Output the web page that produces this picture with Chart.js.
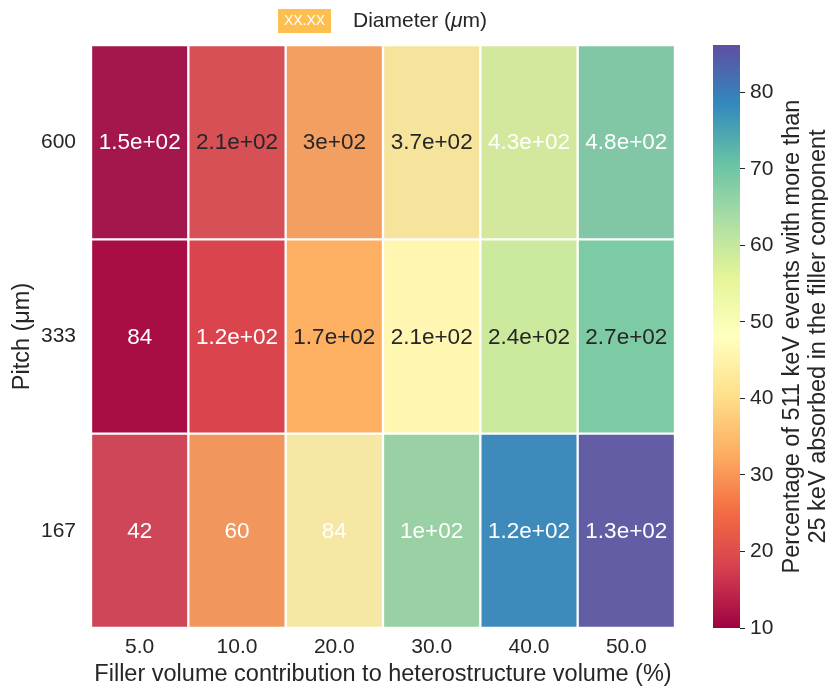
<!DOCTYPE html>
<html>
<head>
<meta charset="utf-8">
<title>Filler heatmap</title>
<style>
  body { margin: 0; background: #fff; }
  #wrap { position: relative; width: 828px; height: 689px; }
  #wrap canvas { position: absolute; left: 0; top: 0; }
</style>
</head>
<body>
<div id="wrap">
  <canvas id="heat" width="828" height="689"></canvas>
  <canvas id="cbar" width="828" height="689"></canvas>
</div>
<script src="https://cdn.jsdelivr.net/npm/chart.js"></script>
<script>
const fillerLabels = ['5.0', '10.0', '20.0', '30.0', '40.0', '50.0'];
const pitchLabels = ['600', '333', '167'];

// colour: % of 511 keV events with > 25 keV absorbed in filler
const pct600 = [10.8, 19.0, 31.0, 43.0, 57.5, 68.5];
const pct333 = [11.5, 18.8, 33.0, 46.0, 59.2, 68.4];
const pct167 = [17.2, 30.0, 44.0, 65.5, 78.6, 85.5];

// annotations: diameter (um)
const diam600 = [150, 210, 300, 370, 430, 480];
const diam333 = [84, 120, 170, 210, 240, 270];
const diam167 = [42, 60, 84, 100, 120, 130];

// which annotations are white
const light600 = [true, false, false, false, true, true];
const light333 = [true, true, false, false, false, false];
const light167 = [true, true, true, true, true, true];

const cbTicks = [10, 20, 30, 40, 50, 60, 70, 80];
const vmin = 10, vmax = 86.2;

const FONT = '"Liberation Sans", Arial, sans-serif';
const DARK = '#262626';
Chart.defaults.font.family = FONT;
Chart.defaults.color = DARK;

// matplotlib Spectral
const spectral = ['#9e0142','#d53e4f','#f46d43','#fdae61','#fee08b','#ffffbf',
                  '#e6f598','#abdda4','#66c2a5','#3288bd','#5e4fa2'];
function hex(c) { return [1, 3, 5].map(i => parseInt(c.substr(i, 2), 16)); }
function cmap(v, mute) {
    let t = (v - vmin) / (vmax - vmin);
    t = Math.max(0, Math.min(1, t)) * 10;
    const i = Math.min(9, Math.floor(t)), f = t - i;
    const a = hex(spectral[i]), b = hex(spectral[i + 1]);
    let c = a.map((x, k) => x + (b[k] - x) * f);
    if (mute) c = c.map(x => x * 0.9 + 168 * 0.1);   // top & bottom rows look washed out
    return 'rgb(' + c.map(Math.round).join(',') + ')';
}

// like python '%.2g'
function fmtG(v) {
    const e = Math.floor(Math.log10(Math.abs(v)));
    if (e >= 2) {
        const m = (v / Math.pow(10, e)).toFixed(1).replace(/\.0$/, '');
        return m + 'e+' + String(e).padStart(2, '0');
    }
    return String(Number(v.toPrecision(2)));
}

const rows = [
    { pct: pct600, diam: diam600, light: light600, mute: true },
    { pct: pct333, diam: diam333, light: light333, mute: false },
    { pct: pct167, diam: diam167, light: light167, mute: true }
];

const annotate = {
    id: 'annotate',
    afterDatasetsDraw(chart) {
        const ctx = chart.ctx;
        ctx.save();
        ctx.font = '22.5px ' + FONT;
        ctx.textAlign = 'center';
        ctx.textBaseline = 'middle';
        chart.data.datasets.forEach((ds, i) => {
            chart.getDatasetMeta(i).data.forEach((el, j) => {
                ctx.fillStyle = ds.light[j] ? '#ffffff' : DARK;
                ctx.fillText(fmtG(ds.diam[j]), el.x, (el.y + el.base) / 2 + 1);
            });
        });
        ctx.restore();
    }
};

const topLegend = {
    id: 'topLegend',
    afterDraw(chart) {
        const ctx = chart.ctx;
        ctx.save();
        ctx.fillStyle = '#fdbf4f';
        ctx.fillRect(278, 9, 53, 24);
        ctx.fillStyle = '#ffffff';
        ctx.font = '14px ' + FONT;
        ctx.textAlign = 'center';
        ctx.textBaseline = 'middle';
        ctx.fillText('XX.XX', 304.5, 21.5);
        ctx.fillStyle = DARK;
        ctx.textAlign = 'left';
        ctx.font = '21px ' + FONT;
        let x = 353;
        const y = 21;
        ctx.fillText('Diameter (', x, y);
        x += ctx.measureText('Diameter (').width;
        ctx.font = 'italic 21px ' + FONT;
        ctx.fillText('\u03bc', x, y);
        x += ctx.measureText('\u03bc').width;
        ctx.font = '21px ' + FONT;
        ctx.fillText('m)', x, y);
        ctx.restore();
    }
};

new Chart(document.getElementById('heat'), {
    type: 'bar',
    data: {
        labels: fillerLabels,
        datasets: rows.map((r, i) => ({
            data: fillerLabels.map(() => [2 - i, 3 - i]),
            backgroundColor: r.pct.map(v => cmap(v, r.mute)),
            borderColor: '#ffffff',
            borderWidth: 1.5,
            borderSkipped: false,
            diam: r.diam,
            light: r.light
        }))
    },
    options: {
        responsive: false,
        animation: false,
        layout: { padding: { top: 45, right: 153, left: 0, bottom: 0 } },
        datasets: { bar: { grouped: false, barPercentage: 1, categoryPercentage: 1 } },
        plugins: { legend: { display: false }, tooltip: { enabled: false } },
        scales: {
            x: {
                grid: { display: false, drawTicks: false },
                border: { display: false },
                ticks: { font: { size: 21 }, padding: 7, maxRotation: 0 },
                title: {
                    display: true,
                    text: 'Filler volume contribution to heterostructure volume (%)',
                    font: { size: 23.5 },
                    padding: { top: 0, bottom: 0 }
                },
                afterFit(s) { s.height = 61; }
            },
            y: {
                min: 0, max: 3,
                grid: { display: false, drawTicks: false },
                border: { display: false },
                afterBuildTicks(s) { s.ticks = [2.5, 1.5, 0.5].map(v => ({ value: v })); },
                ticks: {
                    font: { size: 21 },
                    padding: 15,
                    callback: v => pitchLabels[Math.round(2.5 - v)]
                },
                title: {
                    display: true,
                    text: 'Pitch (\u03bcm)',
                    font: { size: 23.5 },
                    padding: { top: 8, bottom: 0 }
                },
                afterFit(s) { s.width = 91; }
            }
        }
    },
    plugins: [annotate, topLegend]
});

const cbTitle = {
    id: 'cbTitle',
    afterDraw(chart) {
        const ctx = chart.ctx;
        const a = chart.chartArea;
        ctx.save();
        ctx.translate(806, (a.top + a.bottom) / 2);
        ctx.rotate(-Math.PI / 2);
        ctx.font = '23.5px ' + FONT;
        ctx.fillStyle = DARK;
        ctx.textAlign = 'center';
        ctx.textBaseline = 'middle';
        ctx.fillText('Percentage of 511 keV events with more than', 0, -13);
        ctx.fillText('25 keV absorbed in the filler component', 0, 13);
        ctx.restore();
    }
};

new Chart(document.getElementById('cbar'), {
    type: 'bar',
    data: {
        labels: ['cb'],
        datasets: [{
            data: [[vmin, vmax]],
            backgroundColor(c) {
                const ch = c.chart, y = ch.scales.y;
                if (!ch.chartArea || !y) return spectral[0];
                const g = ch.ctx.createLinearGradient(0, y.getPixelForValue(vmin), 0, y.getPixelForValue(vmax));
                spectral.forEach((col, k) => g.addColorStop(k / 10, col));
                return g;
            },
            borderWidth: 0
        }]
    },
    options: {
        responsive: false,
        animation: false,
        layout: { padding: { top: 45, left: 713, bottom: 61, right: 0 } },
        datasets: { bar: { barPercentage: 1, categoryPercentage: 1 } },
        plugins: { legend: { display: false }, tooltip: { enabled: false } },
        scales: {
            x: { display: false },
            y: {
                position: 'right',
                min: vmin, max: vmax,
                afterBuildTicks(s) { s.ticks = cbTicks.map(v => ({ value: v })); },
                grid: { drawOnChartArea: false, drawTicks: true, tickLength: 5, tickColor: DARK },
                border: { display: false },
                ticks: { font: { size: 21 }, padding: 5 },
                afterFit(s) { s.width = 88; }
            }
        }
    },
    plugins: [cbTitle]
});
</script>
</body>
</html>
